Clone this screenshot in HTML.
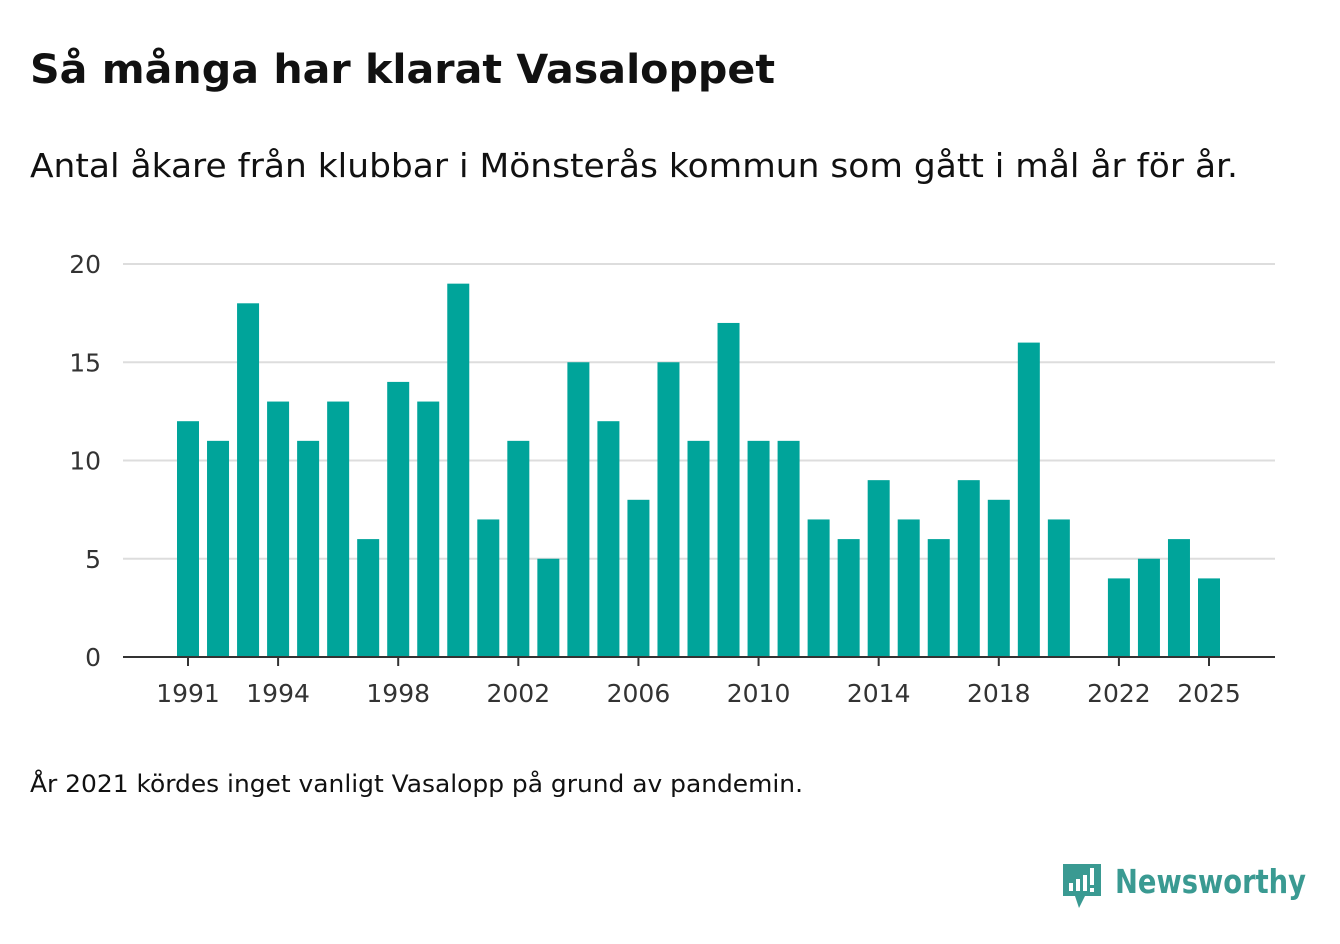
<!DOCTYPE html>
<html><head><meta charset="utf-8"><style>
body{margin:0;background:#fff;width:1340px;height:940px;overflow:hidden;font-family:"DejaVu Sans","Liberation Sans",sans-serif;}
</style></head><body>
<svg width="1340" height="940" font-family="DejaVu Sans, Liberation Sans, sans-serif">
<text x="30" y="83" font-size="40" font-weight="bold" fill="#111" textLength="745" lengthAdjust="spacingAndGlyphs">Så många har klarat Vasaloppet</text>
<text x="30" y="177" font-size="33" fill="#111" textLength="1208" lengthAdjust="spacingAndGlyphs">Antal åkare från klubbar i Mönsterås kommun som gått i mål år för år.</text>
<g id="grid"></g><g id="bars"></g><g id="xt"></g>
<line x1="123" x2="1275" y1="657" y2="657" stroke="#333" stroke-width="2"/>
<text x="30" y="792" font-size="24" fill="#111" textLength="773" lengthAdjust="spacingAndGlyphs">År 2021 kördes inget vanligt Vasalopp på grund av pandemin.</text>
<g>
<path d="M1063 864h38v32h-16l-6 12l-4-12h-12z" fill="#3a9a92"/>
<rect x="1069" y="883" width="4" height="8" fill="#fff"/><rect x="1076" y="879" width="4" height="12" fill="#fff"/><rect x="1083" y="875" width="4" height="16" fill="#fff"/><rect x="1090" y="868" width="4" height="17" fill="#fff"/><rect x="1090" y="888" width="4" height="4" fill="#fff"/>
<text x="1115" y="893" font-size="33" font-weight="bold" fill="#3a9a92" textLength="191" lengthAdjust="spacingAndGlyphs">Newsworthy</text>
</g>
</svg>
<script>
const years=[1991,1992,1993,1994,1995,1996,1997,1998,1999,2000,2001,2002,2003,2004,2005,2006,2007,2008,2009,2010,2011,2012,2013,2014,2015,2016,2017,2018,2019,2020,2021,2022,2023,2024,2025];
const values=[12,11,18,13,11,13,6,14,13,19,7,11,5,15,12,8,15,11,17,11,11,7,6,9,7,6,9,8,16,7,null,4,5,6,4];
const yTicks=[0,5,10,15,20];
const xTicks=[1991,1994,1998,2002,2006,2010,2014,2018,2022,2025];
const ns="http://www.w3.org/2000/svg";
const x=yr=>188+(yr-1991)*(1209-188)/34;
const y=v=>657-v*(657-264)/20;
function mk(t,a,p){const e=document.createElementNS(ns,t);for(const k in a)e.setAttribute(k,a[k]);p.appendChild(e);return e;}
const g=document.getElementById('grid');
yTicks.forEach(v=>{
 if(v>0){const l=mk('line',{x1:123,x2:1275,y1:y(v),y2:y(v),stroke:'#ddd','stroke-width':2},g);
 
 }
 const t=mk('text',{x:101,y:y(v)+9,'font-size':25,fill:'#333','text-anchor':'end'},g);t.textContent=v;
 
 
});
const b=document.getElementById('bars');
years.forEach((yr,i)=>{const v=values[i];if(v==null)return;
 const r=mk('rect',{x:x(yr)-11,y:y(v),width:22,height:y(0)-y(v),fill:'#00a49a'},b);
 
 
});
const xt=document.getElementById('xt');
xTicks.forEach(yr=>{
 mk('line',{x1:x(yr),x2:x(yr),y1:657,y2:666,stroke:'#333','stroke-width':2},xt);
 const t=mk('text',{x:x(yr),y:702,'font-size':25,fill:'#333','text-anchor':'middle'},xt);t.textContent=yr;
 
 
});
</script>
</body></html>
